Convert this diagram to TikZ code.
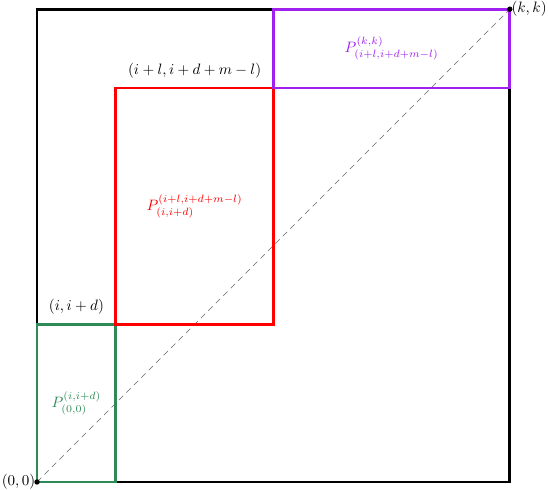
\documentclass[tikz,border=0pt]{standalone}
\usepackage{amssymb}
\usetikzlibrary{calc}
\definecolor{pgreen}{RGB}{46,139,87}
\definecolor{ppurple}{RGB}{160,32,240}
\begin{document}
\begin{tikzpicture}[x=1.84cm,y=1.84cm,box/.style={line width=1.8pt}]
\useasboundingbox(-0.47,-0.10)rectangle(6.485,6.117);
\coordinate(o)at(0,0);\coordinate(kk)at(6,6);
\draw[box](o)rectangle(kk);
\draw[black!60,dash pattern=on 4pt off 3pt](o)--(kk);
\draw[box,pgreen](0,0)rectangle(1,2);
\draw[box,red](1,2)rectangle(3,5);
\draw[box,ppurple](3,5)rectangle(6,6);
\fill(o)circle(1.8pt);\fill(kk)circle(1.8pt);
\node[left,inner sep=1pt](lo)at(o){$(0,0)$};
\node[right,inner sep=1pt](lk)at(kk){$(k,k)$};
\node[above=3pt](lg)at(0.5,2){$(i,i+d)$};
\node[above=3pt](lr)at(2,5){$(i+l,i+d+m-l)$};
\node[pgreen](pg)at(0.5,1){$P_{(0,0)}^{(i,i+d)}$};
\node[red](pr)at(2,3.5){$P_{(i,i+d)}^{(i+l,i+d+m-l)}$};
\node[ppurple](pp)at(4.5,5.5){$P_{(i+l,i+d+m-l)}^{(k,k)}$};
\end{tikzpicture}
\end{document}
